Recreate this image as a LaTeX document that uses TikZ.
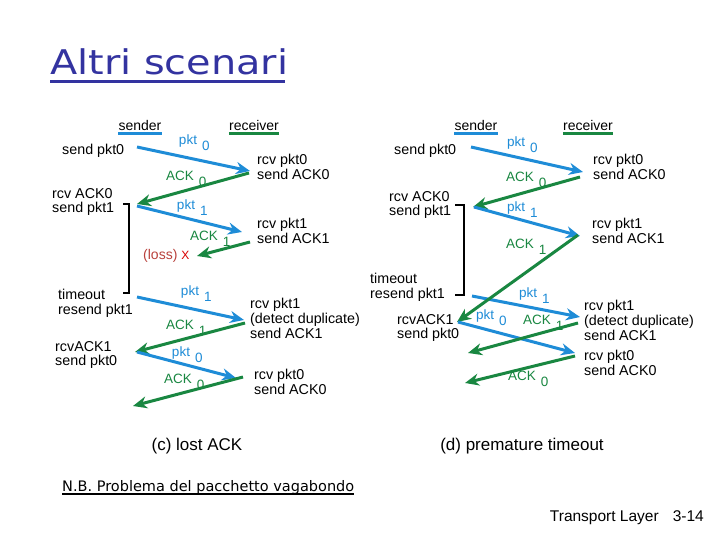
\documentclass[tikz,border=0pt]{standalone}
\usepackage{fontspec}
\setmainfont{Liberation Sans}
\newfontfamily\titlefont{DejaVu Sans}
\usetikzlibrary{arrows.meta}
\usetikzlibrary{positioning}

\definecolor{pktblue}{RGB}{30,140,215}
\definecolor{ackgreen}{RGB}{25,135,65}
\definecolor{lossred}{RGB}{185,65,60}
\definecolor{titleblue}{RGB}{51,51,160}

\tikzset{
    event/.style={
           anchor=north west,
           align=left,
           inner sep=0pt,
           font=\fontsize{14.3}{14.8}\selectfont,
           },
    role/.style={
           inner sep=0pt,
           font=\fontsize{14}{15}\selectfont,
           },
    pktmsg/.style={->, draw=pktblue, line width=3pt},
    ackmsg/.style={->, draw=ackgreen, line width=3pt},
    pktlbl/.style={inner sep=0pt, text=pktblue, font=\fontsize{13.5}{15}\selectfont},
    acklbl/.style={inner sep=0pt, text=ackgreen, font=\fontsize{13.5}{15}\selectfont},
    timer/.style={-, draw=black, line width=2pt},
    caption/.style={inner sep=0pt, font=\fontsize{17}{19}\selectfont},
}
% word with its lowered sequence number
\newcommand{\msg}[2]{#1\rlap{\hspace{5pt}\raisebox{-6pt}{#2}}}

\begin{document}
\begin{tikzpicture}[x=1pt,y=-1pt,>={Stealth[length=14pt,width=12pt]}]

 \fill[white] (0,0) rectangle (720,540);
 \useasboundingbox (0,0) rectangle (720,540);

 % Title
 \node[inner sep=0pt, anchor=base west, text=titleblue] (Title) at (50,75)
  {\titlefont\fontsize{34}{38}\selectfont\scalebox{1.17}[1]{Altri scenari}};
 \draw[titleblue, line width=3pt] (50,82) -- (285,82);

 % ---------------- (c) lost ACK ----------------
 \node[role] (c sender) at (140,125) {sender};
 \node[role] (c receiver) at (254,125) {receiver};
 \draw[pktblue, line width=2.5pt] ([yshift=-3pt]c sender.south west) -- ([yshift=-3pt]c sender.south east);
 \draw[ackgreen, line width=2.5pt] ([yshift=-3pt]c receiver.south west) -- ([yshift=-3pt]c receiver.south east);

 \node[event] (c send0) at (62,144) {send pkt0};
 \node[event] (c rcv0) at (257,154) {rcv pkt0\\send ACK0};
 \node[event] (c ack0) at (52,188) {rcv ACK0\\send pkt1};
 \node[event] (c rcv1) at (257,218) {rcv pkt1\\send ACK1};
 \node[role, anchor=west] (c loss) at (143,256)
  {\textcolor{lossred}{(loss)} \textcolor{red!85!black}{\large X}};
 \node[event] (c timeout) at (58,289) {timeout\\resend pkt1};
 \node[event] (c dup) at (250,298) {rcv pkt1\\(detect duplicate)\\send ACK1};
 \node[event] (c ack1) at (55,341) {rcvACK1\\send pkt0};
 \node[event] (c rcv0b) at (254,369) {rcv pkt0\\send ACK0};
 \node[caption] (c caption) at (197,446) {(c) lost ACK};

 % ends of the messages on both sides
 \coordinate (c s1) at (137,147);  \coordinate (c r1) at (250,171);
 \coordinate (c r2) at (249,173);  \coordinate (c s2) at (137,204);
 \coordinate (c s3) at (137,206);  \coordinate (c r3) at (242,232);
 \coordinate (c r4) at (250,242);  \coordinate (c x4) at (197,256);
 \coordinate (c s5) at (137,297);  \coordinate (c r5) at (244,320);
 \coordinate (c r6) at (245,323);  \coordinate (c s6) at (135,352);
 \coordinate (c s7) at (137,352);  \coordinate (c r7) at (236,378);
 \coordinate (c r8) at (243,377);  \coordinate (c s8) at (133,406);

 \draw[pktmsg] (c s1) -- (c r1);
 \draw[ackmsg] (c r2) -- (c s2);
 \draw[pktmsg] (c s3) -- (c r3);
 \draw[ackmsg] (c r4) -- (c x4);
 \draw[pktmsg] (c s5) -- (c r5);
 \draw[ackmsg] (c r6) -- (c s6);
 \draw[pktmsg] (c s7) -- (c r7);
 \draw[ackmsg] (c r8) -- (c s8);

 \node[pktlbl] (c l1) at (188,143) {\msg{pkt}{0}};
 \node[acklbl] (c l2) at (180,179) {\msg{ACK}{0}};
 \node[pktlbl] (c l3) at (186,208) {\msg{pkt}{1}};
 \node[acklbl] (c l4) at (204,239) {\msg{ACK}{1}};
 \node[pktlbl] (c l5) at (190,294) {\msg{pkt}{1}};
 \node[acklbl] (c l6) at (180,328) {\msg{ACK}{1}};
 \node[pktlbl] (c l7) at (181,355) {\msg{pkt}{0}};
 \node[acklbl] (c l8) at (178,382) {\msg{ACK}{0}};

 % timer bracket
 \draw[timer] (123,204) -- (129,204) -- (129,293) -- (123,293);

 % ---------------- (d) premature timeout ----------------
 \node[role] (d sender) at (476,125) {sender};
 \node[role] (d receiver) at (588,125) {receiver};
 \draw[pktblue, line width=2.5pt] ([yshift=-3pt]d sender.south west) -- ([yshift=-3pt]d sender.south east);
 \draw[ackgreen, line width=2.5pt] ([yshift=-3pt]d receiver.south west) -- ([yshift=-3pt]d receiver.south east);

 \node[event] (d send0) at (394,144) {send pkt0};
 \node[event] (d rcv0) at (593,154) {rcv pkt0\\send ACK0};
 \node[event] (d ack0) at (389,191) {rcv ACK0\\send pkt1};
 \node[event] (d rcv1) at (592,218) {rcv pkt1\\send ACK1};
 \node[event] (d timeout) at (370,273) {timeout\\resend pkt1};
 \node[event] (d dup) at (584,300) {rcv pkt1\\(detect duplicate)\\send ACK1};
 \node[event] (d ack1) at (397,314) {rcvACK1\\send pkt0};
 \node[event] (d rcv0b) at (584,350) {rcv pkt0\\send ACK0};
 \node[caption] (d caption) at (522,446) {(d) premature timeout};

 \coordinate (d s1) at (471,147);  \coordinate (d r1) at (583,172);
 \coordinate (d r2) at (580,177);  \coordinate (d s2) at (473,207);
 \coordinate (d s3) at (474,207);  \coordinate (d r3) at (580,236);
 \coordinate (d r4) at (578,235);  \coordinate (d s4) at (457,322);
 \coordinate (d s5) at (472,296);  \coordinate (d r5) at (580,317);
 \coordinate (d s6) at (458,322);  \coordinate (d r6) at (575,353);
 \coordinate (d r7) at (578,323);  \coordinate (d x7) at (468,353);
 \coordinate (d r8) at (575,356);  \coordinate (d x8) at (465,383);

 \draw[pktmsg] (d s1) -- (d r1);
 \draw[ackmsg] (d r2) -- (d s2);
 \draw[pktmsg] (d s3) -- (d r3);
 \draw[pktmsg] (d s5) -- (d r5);
 \draw[ackmsg] (d r4) -- (d s4);
 \draw[pktmsg] (d s6) -- (d r6);
 \draw[ackmsg] (d r7) -- (d x7);
 \draw[ackmsg] (d r8) -- (d x8);

 \node[pktlbl] (d l1) at (516,145) {\msg{pkt}{0}};
 \node[acklbl] (d l2) at (520,180) {\msg{ACK}{0}};
 \node[pktlbl] (d l3) at (516,210) {\msg{pkt}{1}};
 \node[acklbl] (d l4) at (520,247) {\msg{ACK}{1}};
 \node[pktlbl] (d l5) at (528,296) {\msg{pkt}{1}};
 \node[pktlbl] (d l6) at (485,318) {\msg{pkt}{0}};
 \node[acklbl] (d l7) at (537,323) {\msg{ACK}{1}};
 \node[acklbl] (d l8) at (522,379) {\msg{ACK}{0}};

 \draw[timer] (455,205) -- (464,205) -- (464,295) -- (455,295);

 % footer
 \node[inner sep=0pt, anchor=base west] (Note) at (62,491)
  {\titlefont\fontsize{14.5}{16}\selectfont N.B. Problema del pacchetto vagabondo};
 \draw[black, line width=1.2pt] (62,494) -- (Note.east |- 0,494);
 \node[inner sep=0pt, anchor=base east] (Footer) at (704,521)
  {\fontsize{15.5}{17}\selectfont Transport Layer\hspace{14pt}3-14};

\end{tikzpicture}
\end{document}
